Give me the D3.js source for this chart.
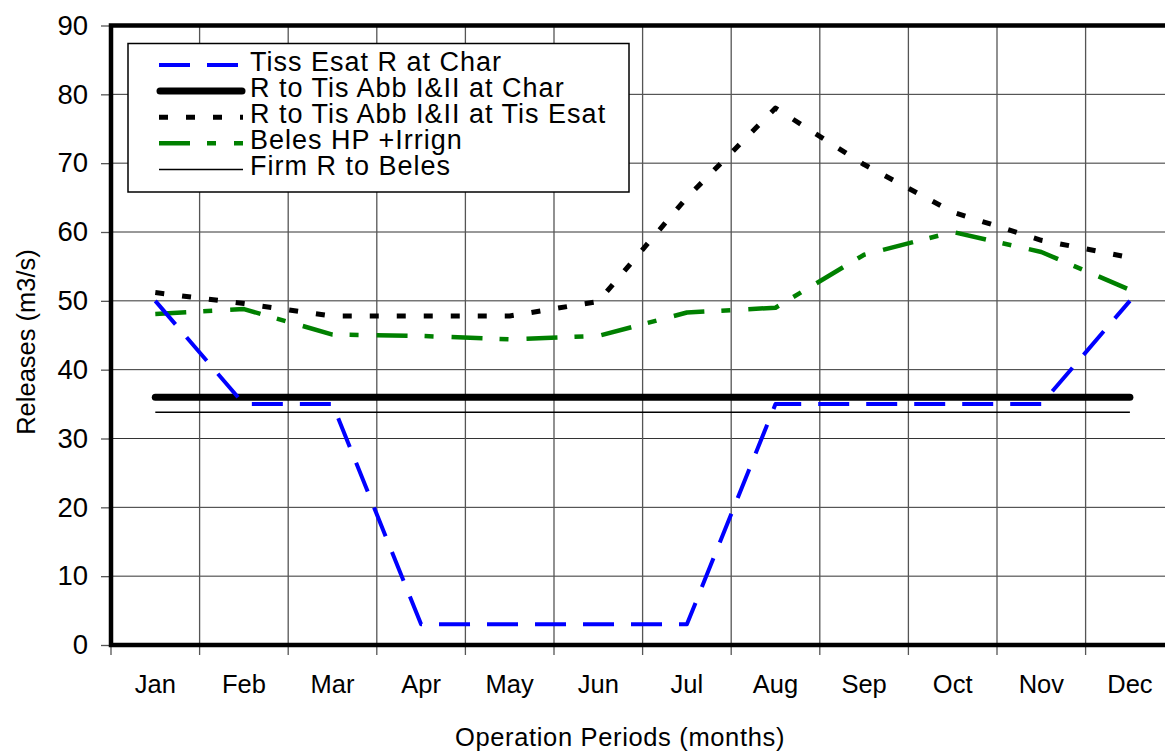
<!DOCTYPE html>
<html>
<head>
<meta charset="utf-8">
<script src="https://cdn.jsdelivr.net/npm/d3@7"></script>
<style>
  html, body { margin: 0; padding: 0; background: #fff; }
  svg { display: block; font-family: "Liberation Sans", Arial, sans-serif; }
</style>
</head>
<body>
<svg id="chart" width="1165" height="755"></svg>
<script>
const months = ["Jan","Feb","Mar","Apr","May","Jun","Jul","Aug","Sep","Oct","Nov","Dec"];
const yTicks = [0,10,20,30,40,50,60,70,80,90];
const tissEsatChar  = [50, 35, 35, 3, 3, 3, 3, 35, 35, 35, 35, 50];
const rTisAbbChar   = [36, 36, 36, 36, 36, 36, 36, 36, 36, 36, 36, 36];
const rTisAbbEsat   = [51.2, 49.6, 47.8, 47.8, 47.8, 49.9, 65, 78, 69.8, 62.9, 58.8, 56.3];
const belesHP       = [48.1, 48.8, 45.1, 44.9, 44.4, 44.9, 48.3, 49, 56.7, 60, 57.1, 51.6];
const firmBeles     = [33.8, 33.8, 33.8, 33.8, 33.8, 33.8, 33.8, 33.8, 33.8, 33.8, 33.8, 33.8];
const seriesNames = ["Tiss Esat R at Char", "R to Tis Abb I&II at Char", "R to Tis Abb I&II at Tis Esat", "Beles HP +Irrign", "Firm R to Beles"];

const series = [
  {name: seriesNames[0], values: tissEsatChar, color: "#0000ff", width: 4, dash: "31,17", cap: "butt"},
  {name: seriesNames[1], values: rTisAbbChar, color: "#000000", width: 7, dash: null, cap: "round"},
  {name: seriesNames[2], values: rTisAbbEsat, color: "#000000", width: 5, dash: "9,18", cap: "butt"},
  {name: seriesNames[3], values: belesHP, color: "#008000", width: 4.5, dash: "31,17,9,18", cap: "butt"},
  {name: seriesNames[4], values: firmBeles, color: "#000000", width: 1.5, dash: null, cap: "butt"}
];

(function () {
const svg = d3.select("#chart");
const pLeft = 111, pRight = 1174.2, pTop = 25.5, pBottom = 645;

const x = d3.scaleBand().domain(months).range([pLeft, pRight]).padding(0);
const y = d3.scaleLinear().domain([0, 90]).range([pBottom, pTop]);
const cx = m => x(m) + x.bandwidth() / 2;

// Grid
const grid = svg.append("g");
grid.selectAll("line.h").data(yTicks).enter().append("line")
  .attr("x1", pLeft).attr("x2", pRight)
  .attr("y1", d => y(d)).attr("y2", d => y(d))
  .attr("stroke", "#333").attr("stroke-width", 1);
const bounds = months.map(m => x(m)).concat([pRight]);
grid.selectAll("line.v").data(bounds.slice(1)).enter().append("line")
  .attr("x1", d => d).attr("x2", d => d)
  .attr("y1", pTop).attr("y2", pBottom)
  .attr("stroke", "#555").attr("stroke-width", 1.3);

// Y axis
const yAxis = svg.append("g").attr("transform", `translate(${pLeft},0)`)
  .call(d3.axisLeft(y).tickValues(yTicks).tickSize(10).tickPadding(13));
yAxis.select(".domain").remove();
yAxis.selectAll(".tick line").attr("stroke", "#555").attr("stroke-width", 1.3);
yAxis.selectAll(".tick text").attr("font-size", 27.5).attr("fill", "#000")
  .attr("font-family", "Liberation Sans, Arial, sans-serif");

// X ticks at band boundaries
svg.append("g").selectAll("line").data(bounds).enter().append("line")
  .attr("x1", d => d).attr("x2", d => d)
  .attr("y1", pBottom).attr("y2", pBottom + 10)
  .attr("stroke", "#555").attr("stroke-width", 1.3);
const xAxis = svg.append("g").attr("transform", `translate(0,${pBottom})`)
  .call(d3.axisBottom(x).tickSize(0).tickPadding(30));
xAxis.select(".domain").remove();
xAxis.selectAll(".tick text").attr("font-size", 25.5).attr("fill", "#000")
  .attr("font-family", "Liberation Sans, Arial, sans-serif");

// Plot border (thick top, left, bottom)
svg.append("path")
  .attr("d", `M${pRight},${pTop}H${pLeft}V${pBottom}H${pRight}`)
  .attr("fill", "none").attr("stroke", "#000").attr("stroke-width", 4.5);

// Series lines
const line = d3.line().x((d, i) => cx(months[i])).y(d => y(d));
const order = [4, 1, 2, 3, 0];
order.forEach(k => {
  const s = series[k];
  svg.append("path")
    .datum(s.values)
    .attr("d", line)
    .attr("fill", "none")
    .attr("stroke", s.color)
    .attr("stroke-width", s.width)
    .attr("stroke-dasharray", s.dash)
    .attr("stroke-linecap", s.cap)
    .attr("stroke-linejoin", "round");
});

// Legend
const lg = svg.append("g");
lg.append("rect").attr("x", 128).attr("y", 43.5).attr("width", 501).attr("height", 148.5)
  .attr("fill", "#fff").attr("stroke", "#000").attr("stroke-width", 1.5);
series.forEach((s, i) => {
  const base = 71 + 26.1 * i;
  const ly = base - 6;
  const x1 = s.cap === "round" ? 160 : 159;
  const x2 = s.cap === "round" ? 242 : 243;
  lg.append("line")
    .attr("x1", x1).attr("x2", x2).attr("y1", ly).attr("y2", ly)
    .attr("stroke", s.color).attr("stroke-width", s.width)
    .attr("stroke-dasharray", s.dash).attr("stroke-linecap", s.cap);
  lg.append("text").attr("x", 250).attr("y", base)
    .attr("font-size", 27).attr("letter-spacing", 1).attr("fill", "#000").text(s.name);
});

// Axis titles
svg.append("text").attr("x", 620).attr("y", 746)
  .attr("text-anchor", "middle").attr("font-size", 25.5).attr("letter-spacing", 0.65)
  .attr("fill", "#000")
  .text("Operation Periods (months)");
svg.append("text")
  .attr("transform", "translate(35,342) rotate(-90)")
  .attr("text-anchor", "middle").attr("font-size", 25.5).attr("fill", "#000")
  .text("Releases (m3/s)");
})();
</script>
</body>
</html>
